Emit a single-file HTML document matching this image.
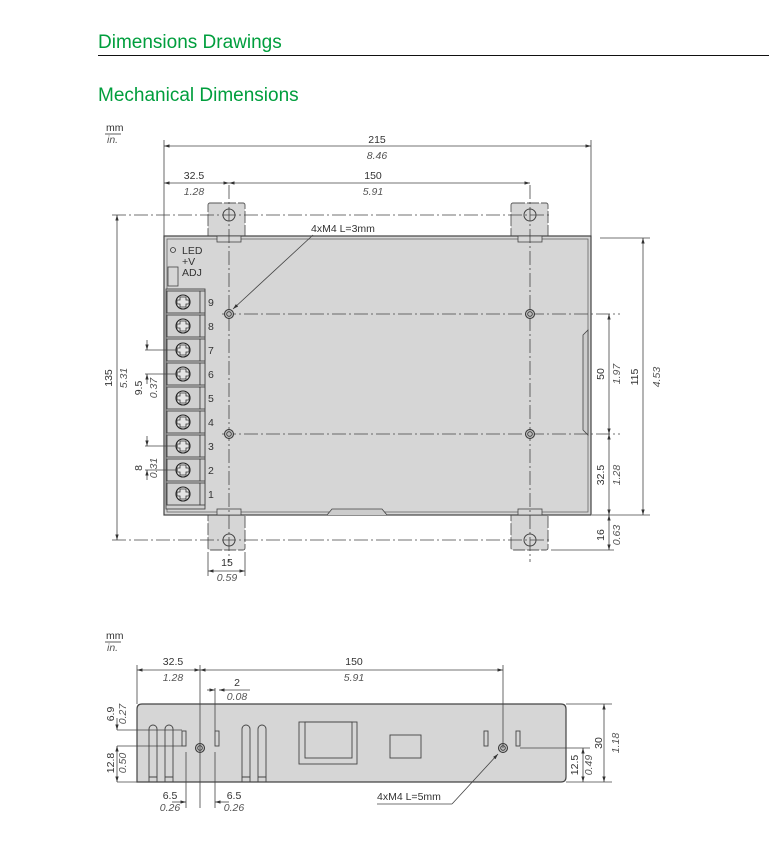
<!DOCTYPE html>
<html><head><meta charset="utf-8"><style>
html,body{margin:0;padding:0;background:#fff;width:769px;height:863px;overflow:hidden}
svg{display:block}
text{font-family:"Liberation Sans",sans-serif;fill:#333}
.h{fill:#009e3d;font-size:19px}
.t{font-size:10.5px}
.i{font-size:10.5px;font-style:italic;fill:#555}
.d{stroke:#444;stroke-width:0.8;fill:none}
.cl{stroke:#444;stroke-width:0.8;fill:none;stroke-dasharray:14 3 2 3}
.b{fill:#d6d6d6;stroke:#444;stroke-width:1.2}
.tab{fill:#d6d6d6;stroke:#555;stroke-width:0.9;stroke-dasharray:12 2}
</style></head><body>
<svg width="769" height="863" viewBox="0 0 769 863" xmlns="http://www.w3.org/2000/svg">
<defs>
<marker id="a" viewBox="0 0 10 10" refX="10" refY="5" markerWidth="7" markerHeight="7" orient="auto-start-reverse"><path d="M0,2 L10,5 L0,8 z" fill="#333"/></marker>
<g id="term">
<rect x="167" y="-11" width="33" height="22" fill="#d0d0d0" stroke="#444" stroke-width="0.9"/>
<rect x="200" y="-11" width="5" height="22" fill="#d0d0d0" stroke="#444" stroke-width="0.9"/>
<circle cx="183" cy="0" r="7" fill="#e4e4e4" stroke="#222" stroke-width="1.1"/>
<path d="M180,-5 h6 v3 h3 v4 h-3 v3 h-6 v-3 h-3 v-4 h3z" fill="none" stroke="#333" stroke-width="0.8"/>
</g>
<g id="hole"><circle r="4.5" fill="#bbb" stroke="#333" stroke-width="1"/><circle r="2.3" fill="none" stroke="#333" stroke-width="0.8"/></g>
</defs>

<text x="98" y="48" class="h">Dimensions Drawings</text>
<line x1="98" y1="55.5" x2="769" y2="55.5" stroke="#111" stroke-width="1"/>
<text x="98" y="101" class="h">Mechanical Dimensions</text>

<!-- top view -->
<text x="106" y="131" class="t" font-size="9">mm</text>
<line x1="105" y1="134" x2="121" y2="134" stroke="#333" stroke-width="0.8"/>
<text x="107" y="143" class="i" font-size="9">in.</text>

<rect x="208" y="203" width="37" height="40" rx="2" class="tab"/>
<rect x="511" y="203" width="37" height="40" rx="2" class="tab"/>
<rect x="208" y="508" width="37" height="42" rx="2" class="tab"/>
<rect x="511" y="508" width="37" height="42" rx="2" class="tab"/>
<rect x="164" y="236" width="427" height="279" class="b"/>
<rect x="167" y="239" width="421" height="273" fill="none" stroke="#666" stroke-width="0.8"/>
<rect x="217" y="236" width="24" height="6" fill="#d6d6d6" stroke="#444" stroke-width="0.8"/>
<rect x="518" y="236" width="24" height="6" fill="#d6d6d6" stroke="#444" stroke-width="0.8"/>
<rect x="217" y="509" width="24" height="6" fill="#d6d6d6" stroke="#444" stroke-width="0.8"/>
<rect x="518" y="509" width="24" height="6" fill="#d6d6d6" stroke="#444" stroke-width="0.8"/>
<path d="M583,335 l5,-5 v105 l-5,-5z" fill="#ccc" stroke="#444" stroke-width="0.8"/>
<path d="M327,515 l5,-6 h50 l5,6" fill="#ccc" stroke="#444" stroke-width="0.8"/>
<circle cx="229" cy="215" r="6" fill="none" stroke="#444"/>
<circle cx="530" cy="215" r="6" fill="none" stroke="#444"/>
<circle cx="229" cy="540" r="6" fill="none" stroke="#444"/>
<circle cx="530" cy="540" r="6" fill="none" stroke="#444"/>
<circle cx="173" cy="250" r="2.5" fill="none" stroke="#333" stroke-width="0.8"/>
<text x="182" y="254" class="t">LED</text>
<text x="182" y="265" class="t">+V</text>
<text x="182" y="276" class="t">ADJ</text>
<rect x="168" y="267" width="10" height="19" fill="none" stroke="#444" stroke-width="0.8"/>
<rect x="166" y="289" width="39" height="220" fill="#d0d0d0" stroke="#444" stroke-width="0.9"/>
<use href="#term" y="302"/><use href="#term" y="326"/><use href="#term" y="350"/>
<use href="#term" y="374"/><use href="#term" y="398"/><use href="#term" y="422"/>
<use href="#term" y="446"/><use href="#term" y="470"/><use href="#term" y="494"/>
<g class="t">
<text x="208" y="306">9</text><text x="208" y="330">8</text><text x="208" y="354">7</text>
<text x="208" y="378">6</text><text x="208" y="402">5</text><text x="208" y="426">4</text>
<text x="208" y="450">3</text><text x="208" y="474">2</text><text x="208" y="498">1</text>
</g>
<line x1="229" y1="185" x2="229" y2="562" class="cl"/>
<line x1="530" y1="185" x2="530" y2="562" class="cl"/>
<line x1="112" y1="215" x2="551" y2="215" class="cl"/>
<line x1="112" y1="540" x2="551" y2="540" class="cl"/>
<line x1="222" y1="314" x2="620" y2="314" class="cl"/>
<line x1="222" y1="434" x2="620" y2="434" class="cl"/>
<use href="#hole" x="229" y="314"/><use href="#hole" x="530" y="314"/>
<use href="#hole" x="229" y="434"/><use href="#hole" x="530" y="434"/>
<line x1="164" y1="140" x2="164" y2="236" class="d"/>
<line x1="591" y1="140" x2="591" y2="236" class="d"/>
<line x1="164" y1="146" x2="591" y2="146" class="d" marker-start="url(#a)" marker-end="url(#a)"/>
<text x="377" y="143" class="t" text-anchor="middle">215</text>
<text x="377" y="159" class="i" text-anchor="middle">8.46</text>
<line x1="164" y1="183" x2="229" y2="183" class="d" marker-start="url(#a)" marker-end="url(#a)"/>
<line x1="229" y1="183" x2="530" y2="183" class="d" marker-start="url(#a)" marker-end="url(#a)"/>
<text x="194" y="179" class="t" text-anchor="middle">32.5</text>
<text x="194" y="195" class="i" text-anchor="middle">1.28</text>
<text x="373" y="179" class="t" text-anchor="middle">150</text>
<text x="373" y="195" class="i" text-anchor="middle">5.91</text>
<text x="311" y="232" class="t">4xM4 L=3mm</text>
<line x1="313" y1="235" x2="233" y2="309" class="d" marker-end="url(#a)"/>
<line x1="117" y1="215" x2="117" y2="540" class="d" marker-start="url(#a)" marker-end="url(#a)"/>
<text transform="translate(112,378) rotate(-90)" class="t" text-anchor="middle">135</text>
<text transform="translate(127,378) rotate(-90)" class="i" text-anchor="middle">5.31</text>
<line x1="145" y1="350" x2="178" y2="350" class="d"/><line x1="145" y1="374" x2="178" y2="374" class="d"/>
<line x1="147" y1="340" x2="147" y2="350" class="d" marker-end="url(#a)"/>
<line x1="147" y1="384" x2="147" y2="374" class="d" marker-end="url(#a)"/>
<text transform="translate(142,388) rotate(-90)" class="t" text-anchor="middle">9.5</text>
<text transform="translate(157,388) rotate(-90)" class="i" text-anchor="middle">0.37</text>
<line x1="145" y1="446" x2="178" y2="446" class="d"/><line x1="145" y1="470" x2="178" y2="470" class="d"/>
<line x1="147" y1="436" x2="147" y2="446" class="d" marker-end="url(#a)"/>
<line x1="147" y1="480" x2="147" y2="470" class="d" marker-end="url(#a)"/>
<text transform="translate(142,468) rotate(-90)" class="t" text-anchor="middle">8</text>
<text transform="translate(157,468) rotate(-90)" class="i" text-anchor="middle">0.31</text>
<line x1="208" y1="552" x2="208" y2="576" class="d"/><line x1="245" y1="552" x2="245" y2="576" class="d"/>
<line x1="208" y1="571" x2="245" y2="571" class="d" marker-start="url(#a)" marker-end="url(#a)"/>
<text x="227" y="566" class="t" text-anchor="middle">15</text>
<text x="227" y="581" class="i" text-anchor="middle">0.59</text>
<line x1="600" y1="238" x2="650" y2="238" class="d"/>
<line x1="592" y1="515" x2="650" y2="515" class="d"/>
<line x1="643" y1="238" x2="643" y2="515" class="d" marker-start="url(#a)" marker-end="url(#a)"/>
<text transform="translate(638,377) rotate(-90)" class="t" text-anchor="middle">115</text>
<text transform="translate(660,377) rotate(-90)" class="i" text-anchor="middle">4.53</text>
<line x1="551" y1="550" x2="614" y2="550" class="d"/>
<line x1="609" y1="314" x2="609" y2="434" class="d" marker-start="url(#a)" marker-end="url(#a)"/>
<line x1="609" y1="434" x2="609" y2="515" class="d" marker-start="url(#a)" marker-end="url(#a)"/>
<line x1="609" y1="515" x2="609" y2="550" class="d" marker-start="url(#a)" marker-end="url(#a)"/>
<text transform="translate(604,374) rotate(-90)" class="t" text-anchor="middle">50</text>
<text transform="translate(620,374) rotate(-90)" class="i" text-anchor="middle">1.97</text>
<text transform="translate(604,475) rotate(-90)" class="t" text-anchor="middle">32.5</text>
<text transform="translate(620,475) rotate(-90)" class="i" text-anchor="middle">1.28</text>
<text transform="translate(604,535) rotate(-90)" class="t" text-anchor="middle">16</text>
<text transform="translate(620,535) rotate(-90)" class="i" text-anchor="middle">0.63</text>

<!-- bottom view -->
<text x="106" y="639" class="t" font-size="9">mm</text>
<line x1="105" y1="642" x2="121" y2="642" stroke="#333" stroke-width="0.8"/>
<text x="107" y="651" class="i" font-size="9">in.</text>
<path d="M137,782 V709 q0,-5 5,-5 H561 q5,0 5,5 V777 q0,5 -5,5 Z" class="b"/>
<g fill="none" stroke="#444" stroke-width="0.9">
<path d="M149,782 V729 a4,4 0 0 1 8,0 V782"/><path d="M165,782 V729 a4,4 0 0 1 8,0 V782"/>
<path d="M242,782 V729 a4,4 0 0 1 8,0 V782"/><path d="M258,782 V729 a4,4 0 0 1 8,0 V782"/>
<path d="M149,777 h8 M165,777 h8 M242,777 h8 M258,777 h8"/>
<rect x="182" y="731" width="4" height="15"/><rect x="215" y="731" width="4" height="15"/>
<rect x="484" y="731" width="4" height="15"/><rect x="516" y="731" width="4" height="15"/>
<rect x="299" y="722" width="58" height="42"/><rect x="305" y="722" width="47" height="36"/>
<rect x="390" y="735" width="31" height="23"/>
</g>
<use href="#hole" x="200" y="748"/><use href="#hole" x="503" y="748"/>
<line x1="137" y1="665" x2="137" y2="704" class="d"/>
<line x1="200" y1="665" x2="200" y2="808" class="d"/>
<line x1="503" y1="665" x2="503" y2="748" class="d"/>
<line x1="137" y1="670" x2="200" y2="670" class="d" marker-start="url(#a)" marker-end="url(#a)"/>
<line x1="200" y1="670" x2="503" y2="670" class="d" marker-start="url(#a)" marker-end="url(#a)"/>
<text x="173" y="665" class="t" text-anchor="middle">32.5</text>
<text x="173" y="681" class="i" text-anchor="middle">1.28</text>
<text x="354" y="665" class="t" text-anchor="middle">150</text>
<text x="354" y="681" class="i" text-anchor="middle">5.91</text>
<line x1="215" y1="688" x2="215" y2="731" class="d"/>
<line x1="207" y1="690" x2="215" y2="690" class="d" marker-end="url(#a)"/>
<line x1="250" y1="690" x2="219" y2="690" class="d" marker-end="url(#a)"/>
<text x="237" y="686" class="t" text-anchor="middle">2</text>
<text x="237" y="700" class="i" text-anchor="middle">0.08</text>
<line x1="117" y1="730" x2="182" y2="730" class="d"/>
<line x1="117" y1="746" x2="182" y2="746" class="d"/>
<line x1="117" y1="782" x2="137" y2="782" class="d"/>
<line x1="117" y1="718" x2="117" y2="730" class="d" marker-end="url(#a)"/>
<line x1="117" y1="746" x2="117" y2="782" class="d" marker-start="url(#a)" marker-end="url(#a)"/>
<text transform="translate(114,714) rotate(-90)" class="t" text-anchor="middle">6.9</text>
<text transform="translate(126,714) rotate(-90)" class="i" text-anchor="middle">0.27</text>
<text transform="translate(114,763) rotate(-90)" class="t" text-anchor="middle">12.8</text>
<text transform="translate(126,763) rotate(-90)" class="i" text-anchor="middle">0.50</text>
<line x1="186" y1="752" x2="186" y2="808" class="d"/>
<line x1="215" y1="752" x2="215" y2="808" class="d"/>
<line x1="172" y1="802" x2="186" y2="802" class="d" marker-end="url(#a)"/>
<line x1="229" y1="802" x2="215" y2="802" class="d" marker-end="url(#a)"/>
<text x="170" y="799" class="t" text-anchor="middle">6.5</text>
<text x="170" y="811" class="i" text-anchor="middle">0.26</text>
<text x="234" y="799" class="t" text-anchor="middle">6.5</text>
<text x="234" y="811" class="i" text-anchor="middle">0.26</text>
<line x1="520" y1="748" x2="590" y2="748" class="d"/>
<line x1="566" y1="704" x2="612" y2="704" class="d"/>
<line x1="566" y1="782" x2="612" y2="782" class="d"/>
<line x1="604" y1="704" x2="604" y2="782" class="d" marker-start="url(#a)" marker-end="url(#a)"/>
<line x1="583" y1="748" x2="583" y2="782" class="d" marker-start="url(#a)" marker-end="url(#a)"/>
<text transform="translate(602,743) rotate(-90)" class="t" text-anchor="middle">30</text>
<text transform="translate(619,743) rotate(-90)" class="i" text-anchor="middle">1.18</text>
<text transform="translate(578,765) rotate(-90)" class="t" text-anchor="middle">12.5</text>
<text transform="translate(592,765) rotate(-90)" class="i" text-anchor="middle">0.49</text>
<text x="377" y="800" class="t">4xM4 L=5mm</text>
<line x1="377" y1="804" x2="452" y2="804" class="d"/>
<line x1="452" y1="804" x2="498" y2="754" class="d" marker-end="url(#a)"/>
</svg>
</body></html>
